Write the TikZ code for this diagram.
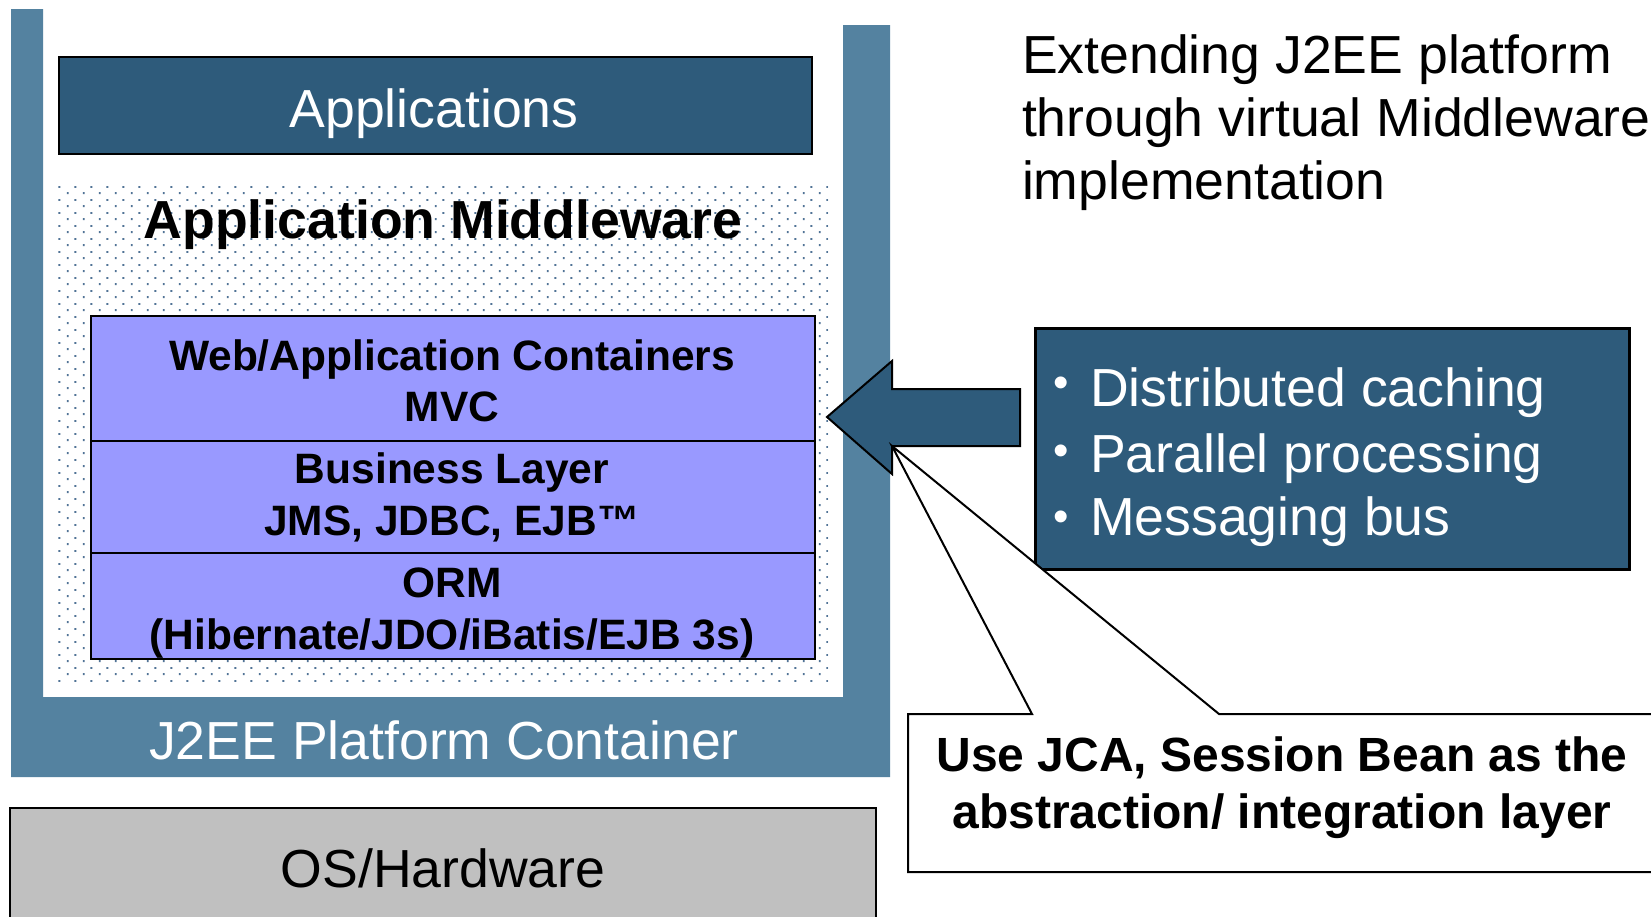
\documentclass[tikz,border=0pt]{standalone}
\usepackage{fontspec}
\setmainfont{Liberation Sans}
\usetikzlibrary{patterns.meta}

\definecolor{slateblue}{RGB}{46,91,123}
\definecolor{frameblue}{RGB}{84,130,160}
\definecolor{layerviolet}{RGB}{153,153,255}
\definecolor{hwgrey}{RGB}{192,192,192}
\definecolor{dotblue}{RGB}{80,115,150}

\newcommand\fsz[1]{\fontsize{#1pt}{#1pt}\selectfont}

% staggered dot raster of the middleware area
\tikzdeclarepattern{
  name=mwdots,
  type=uncolored,
  bounding box={(0pt,0pt) and (16pt,12.6pt)},
  tile size={(16pt,12.6pt)},
  code={
    \pgfpathrectangle{\pgfqpoint{3pt}{2pt}}{\pgfqpoint{2pt}{2pt}}
    \pgfpathrectangle{\pgfqpoint{11pt}{8.3pt}}{\pgfqpoint{2pt}{2pt}}
    \pgfusepath{fill}
  }
}

\begin{document}
\begin{tikzpicture}[x=1pt,y=-1pt,
  outline/.style={draw=black,line width=2pt},
  panel/.style={outline,inner sep=0pt,outer sep=0pt},
  txt/.style={inner sep=0pt,outer sep=0pt,anchor=base},
  lefttxt/.style={inner sep=0pt,outer sep=0pt,anchor=base west},
  big/.style={font=\fsz{53.6}},
  bigbold/.style={font=\fsz{53.6}\bfseries},
  layertxt/.style={txt,font=\fsz{42.5}\bfseries},
  notetxt/.style={txt,font=\fsz{48}\bfseries},
  bullettxt/.style={lefttxt,big,text=white},
  bulletmark/.style={txt,font=\fsz{44},text=white}
]
\useasboundingbox (0,0) rectangle (1651,916);
\clip (0,0) rectangle (1651,916);
\fill[white] (0,0) rectangle (1651,916);

% J2EE platform container (U-shaped frame)
\fill[frameblue] (11,9) -- (43,9) -- (43,697) -- (843,697) -- (843,25)
  -- (890,25) -- (890,777) -- (11,777) -- cycle;
\node[txt,big,text=white] (j2ee) at (444,759) {J2EE Platform Container};

% applications
\node[panel,fill=slateblue,minimum width=753pt,minimum height=97pt] (apps) at (435.5,105.5) {};
\node[txt,big,text=white] (appslbl) at (434,127) {Applications};

% application middleware area
\node[inner sep=0pt,outer sep=0pt,minimum width=770pt,minimum height=497pt,
  pattern={mwdots},pattern color=dotblue] (mw) at (443,432.5) {};
\node[txt,bigbold] (mwlbl) at (443,238) {Application Middleware};

% middleware layers
\node[panel,fill=layerviolet,minimum width=724.5pt,minimum height=125pt] (web) at (452.75,378.5) {};
\node[panel,fill=layerviolet,minimum width=724.5pt,minimum height=112pt] (biz) at (452.75,497) {};
\node[panel,fill=layerviolet,minimum width=724.5pt,minimum height=106pt] (orm) at (452.75,606) {};
\node[layertxt] (webA) at (452,370) {Web/Application Containers};
\node[layertxt] (webB) at (452,421) {MVC};
\node[layertxt] (bizA) at (452,483) {Business Layer};
\node[layertxt] (bizB) at (452,535) {JMS, JDBC, EJB™};
\node[layertxt] (ormA) at (452,597) {ORM};
\node[layertxt] (ormB) at (452,649) {(Hibernate/JDO/iBatis/EJB 3s)};

% OS / hardware
\node[panel,fill=hwgrey,minimum width=865.5pt,minimum height=122pt] (os) at (443,869) {};
\node[txt,big] (oslbl) at (443,887) {OS/Hardware};

% heading
\node[lefttxt,big] (headA) at (1022,73) {Extending J2EE platform};
\node[lefttxt,big] (headB) at (1022,136) {through virtual Middleware};
\node[lefttxt,big] (headC) at (1022,199) {implementation};

% feature list
\node[panel,fill=slateblue,line width=3pt,minimum width=594pt,minimum height=241pt] (feat) at (1332,448.5) {};
\node[bulletmark] (bA) at (1061,397) {•};
\node[bulletmark] (bB) at (1061,465) {•};
\node[bulletmark] (bC) at (1061,531) {•};
\node[bullettxt] (fA) at (1090,406) {Distributed caching};
\node[bullettxt] (fB) at (1090,472) {Parallel processing};
\node[bullettxt] (fC) at (1090,535) {Messaging bus};

% block arrow from the feature list into the middleware
\coordinate (tip) at (827,417);
\coordinate (headtop) at (892,361);
\coordinate (shafttop) at (892,389);
\coordinate (shaftend) at (1020,389);
\coordinate (shaftendlow) at (1020,446);
\coordinate (notch) at (892,446);
\coordinate (headlow) at (892,474);
\draw[outline,line join=miter,fill=slateblue] (tip) -- (headtop) -- (shafttop) -- (shaftend)
  -- (shaftendlow) -- (notch) -- (headlow) -- cycle;

% callout pointing at the arrow
\coordinate (cNW) at (908,714);
\coordinate (cPinA) at (1032,714);
\coordinate (cPinB) at (1219,714);
\coordinate (cNE) at (1665,714);
\coordinate (cSE) at (1665,872);
\coordinate (cSW) at (908,872);
\draw[outline,line join=miter,fill=white] (cNW) -- (cPinA) -- (notch) -- (cPinB)
  -- (cNE) -- (cSE) -- (cSW) -- cycle;
\node[notetxt] (noteA) at (1282,771) {Use JCA, Session Bean as the};
\node[notetxt] (noteB) at (1282,828) {abstraction/ integration layer};
\end{tikzpicture}
\end{document}
